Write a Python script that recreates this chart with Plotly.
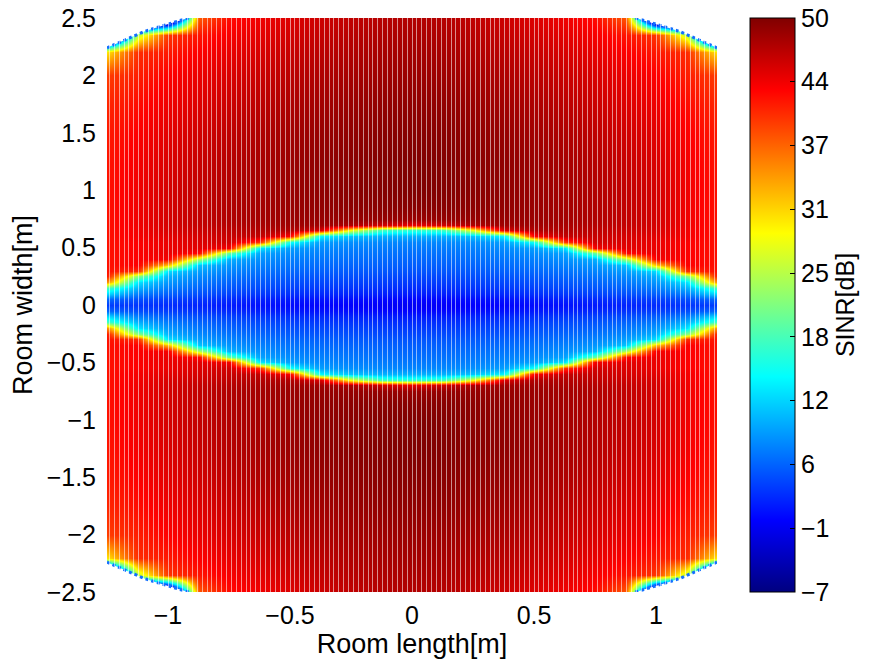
import plotly.graph_objects as go

# ---- SINR map samples (one quadrant; the room layout is symmetric) ----
# columns: position along the room length [m], rows: position across the width [m]
length_pos = [0.0, 0.125, 0.25, 0.375, 0.5, 0.625, 0.75, 0.875, 1.0, 1.125, 1.25]
width_pos = [0.0, 0.05, 0.1, 0.15, 0.2, 0.25, 0.3, 0.35, 0.4, 0.45, 0.5, 0.55,
             0.6, 0.65, 0.7, 0.75, 0.85, 1.0, 1.25, 1.5, 1.75, 2.0, 2.2, 2.35, 2.5]

sinr_quadrant = [
    [-0.5, -0.3, 0.0, 0.3, 0.7, 1.0, 1.5, 2.0, 2.5, 3.0, 3.5],
    [0.3, 0.5, 0.8, 1.1, 1.5, 1.9, 2.4, 3.0, 3.6, 4.5, 6.0],
    [1.5, 1.7, 2.0, 2.3, 2.7, 3.1, 3.7, 4.4, 5.3, 7.0, 12.0],
    [2.5, 2.7, 3.0, 3.3, 3.7, 4.2, 4.8, 5.7, 7.0, 10.0, 18.0],
    [3.3, 3.5, 3.8, 4.1, 4.5, 5.0, 5.7, 6.8, 8.5, 13.0, 35.0],
    [4.0, 4.2, 4.5, 4.8, 5.2, 5.8, 6.6, 7.8, 10.0, 22.0, 41.5],
    [4.7, 4.9, 5.1, 5.5, 5.9, 6.5, 7.5, 9.0, 12.5, 40.5, 42.0],
    [5.3, 5.5, 5.7, 6.1, 6.6, 7.3, 8.5, 11.0, 32.0, 43.0, 42.0],
    [5.8, 6.0, 6.3, 6.7, 7.2, 8.2, 10.0, 24.0, 43.5, 43.0, 42.0],
    [6.3, 6.5, 6.8, 7.3, 8.0, 9.2, 20.0, 42.5, 44.0, 43.0, 42.0],
    [6.8, 7.0, 7.3, 7.9, 9.0, 13.0, 43.5, 44.5, 44.0, 43.0, 42.0],
    [7.5, 7.7, 8.1, 8.9, 15.0, 40.0, 45.5, 44.8, 44.0, 43.0, 42.0],
    [10.0, 10.0, 11.0, 14.0, 43.0, 46.3, 46.0, 45.2, 44.5, 43.5, 42.0],
    [17.0, 18.0, 28.0, 45.0, 47.3, 47.2, 46.5, 45.7, 45.0, 43.5, 42.0],
    [44.0, 45.5, 47.5, 48.2, 48.2, 47.7, 47.0, 46.2, 45.2, 43.7, 42.0],
    [48.5, 48.8, 48.8, 48.7, 48.5, 48.0, 47.3, 46.3, 45.3, 43.7, 42.0],
    [49.5, 49.5, 49.3, 49.0, 48.6, 48.0, 47.3, 46.3, 45.3, 43.7, 42.0],
    [50.0, 49.8, 49.5, 49.1, 48.6, 48.0, 47.2, 46.3, 45.3, 43.7, 42.0],
    [50.0, 49.8, 49.5, 49.1, 48.5, 47.8, 47.0, 46.0, 45.0, 43.5, 41.8],
    [49.6, 49.5, 49.1, 48.7, 48.1, 47.4, 46.5, 45.5, 44.5, 43.0, 41.5],
    [49.1, 49.0, 48.6, 48.1, 47.5, 46.7, 45.8, 44.8, 43.8, 42.3, 40.8],
    [48.5, 48.3, 47.9, 47.4, 46.7, 45.9, 45.0, 44.0, 42.9, 41.3, 39.5],
    [48.0, 47.8, 47.3, 46.7, 46.0, 45.1, 44.1, 43.0, 41.6, 40.5, 30.0],
    [47.6, 47.4, 46.9, 46.2, 45.4, 44.4, 43.3, 41.8, 40.0, 25.0, -25.0],
    [47.2, 47.0, 46.4, 45.7, 44.8, 43.7, 42.3, 38.0, -25.0, -25.0, -25.0],
]

# coverage edge in the corners (given for the +length / +width corner)
edge_length = [1.25, 1.2, 1.15, 1.1, 1.05, 1.0, 0.95, 0.916]
edge_width = [2.24, 2.285, 2.335, 2.38, 2.415, 2.445, 2.48, 2.5]

# room extent [m]
half_length = 1.25
half_width = 2.5

x_ticks = [-1, -0.5, 0, 0.5, 1]
y_ticks = [-2.5, -2, -1.5, -1, -0.5, 0, 0.5, 1, 1.5, 2, 2.5]
cbar_ticks = [-7, -0.67, 5.67, 12, 18.33, 24.67, 31, 37.33, 43.67, 50]
cbar_labels = ["\u22127", "\u22121", "6", "12", "18", "25", "31", "37", "44", "50"]
sinr_min, sinr_max = -7, 50

# MATLAB-style jet colormap
jet = [
    [0.0, "rgb(0,0,128)"],
    [0.125, "rgb(0,0,255)"],
    [0.375, "rgb(0,255,255)"],
    [0.625, "rgb(255,255,0)"],
    [0.875, "rgb(255,0,0)"],
    [1.0, "rgb(128,0,0)"],
]

# ---- unfold the quadrant onto the whole room ----
x_full = [-v for v in reversed(length_pos)] + length_pos[1:]
y_full = [-v for v in reversed(width_pos)] + width_pos[1:]
rows_full = list(reversed(sinr_quadrant)) + sinr_quadrant[1:]
z_full = [list(reversed(r)) + r[1:] for r in rows_full]

fig = go.Figure()
fig.add_trace(go.Heatmap(
    x=x_full, y=y_full, z=z_full, zsmooth="best",
    coloraxis="coloraxis", hoverinfo="skip",
))

# outside the coverage area: blank corners, with the edge samples drawn on top
pad = 0.05
for sx in (-1, 1):
    for sy in (-1, 1):
        ex = [sx * v for v in edge_length]
        ey = [sy * v for v in edge_width]
        mx = ex + [ex[-1], sx * (half_length + pad), sx * (half_length + pad)]
        my = ey + [sy * (half_width + pad), sy * (half_width + pad), ey[0]]
        fig.add_trace(go.Scatter(
            x=mx, y=my, mode="lines", fill="toself", fillcolor="white",
            line=dict(width=0), hoverinfo="skip", showlegend=False,
        ))
        fig.add_trace(go.Scatter(
            x=ex, y=ey, mode="lines",
            line=dict(color="rgb(20,110,255)", width=3, dash="dot"),
            hoverinfo="skip", showlegend=False,
        ))

# helper trace for the sample-column raster axis
fig.add_trace(go.Scatter(x=[], y=[], xaxis="x2", yaxis="y", showlegend=False,
                         hoverinfo="skip"))

font = "Liberation Sans, Arial, sans-serif"
plot_h = 574

fig.update_layout(
    width=873, height=661,
    margin=dict(l=107, r=156, t=18, b=69, autoexpand=False),
    paper_bgcolor="white", plot_bgcolor="white",
    font=dict(family=font, color="black", size=25),
    showlegend=False,
    coloraxis=dict(
        colorscale=jet, cmin=sinr_min, cmax=sinr_max,
        colorbar=dict(
            thickness=45, thicknessmode="pixels",
            len=1, lenmode="fraction", y=0.5, yanchor="middle", ypad=0,
            x=1.054, xanchor="left", xpad=0,
            outlinewidth=1, outlinecolor="black",
            tickvals=cbar_ticks, ticktext=cbar_labels,
            ticks="inside", ticklen=5, tickcolor="black",
            tickfont=dict(family=font, size=25),
            title=dict(text="SINR[dB]", side="right",
                       font=dict(family=font, size=25)),
        ),
    ),
    xaxis=dict(
        range=[-half_length, half_length], tickvals=x_ticks,
        ticks="outside", ticklen=1, tickcolor="rgba(0,0,0,0)",
        showgrid=False, zeroline=False, showline=False, automargin=False,
        tickfont=dict(family=font, size=25),
        title=dict(text="Room length[m]", font=dict(family=font, size=27), standoff=0),
    ),
    yaxis=dict(
        range=[-half_width, half_width], tickvals=y_ticks,
        ticks="outside", ticklen=5, tickcolor="rgba(0,0,0,0)",
        showgrid=False, zeroline=False, showline=False, automargin=False,
        tickfont=dict(family=font, size=25),
        title=dict(text="Room width[m]", font=dict(family=font, size=27), standoff=6),
    ),
    # raster of the sampled columns (white gaps between 2 cm sample columns)
    xaxis2=dict(
        overlaying="x", anchor="y", side="bottom",
        range=[-half_length, half_length],
        tickmode="linear", tick0=-1.24, dtick=0.02,
        ticks="inside", ticklen=plot_h, tickwidth=1,
        tickcolor="rgba(255,255,255,0.55)",
        showticklabels=False, showgrid=False, zeroline=False, showline=False,
        automargin=False, layer="above traces",
    ),
)

fig.write_html("out.html")
